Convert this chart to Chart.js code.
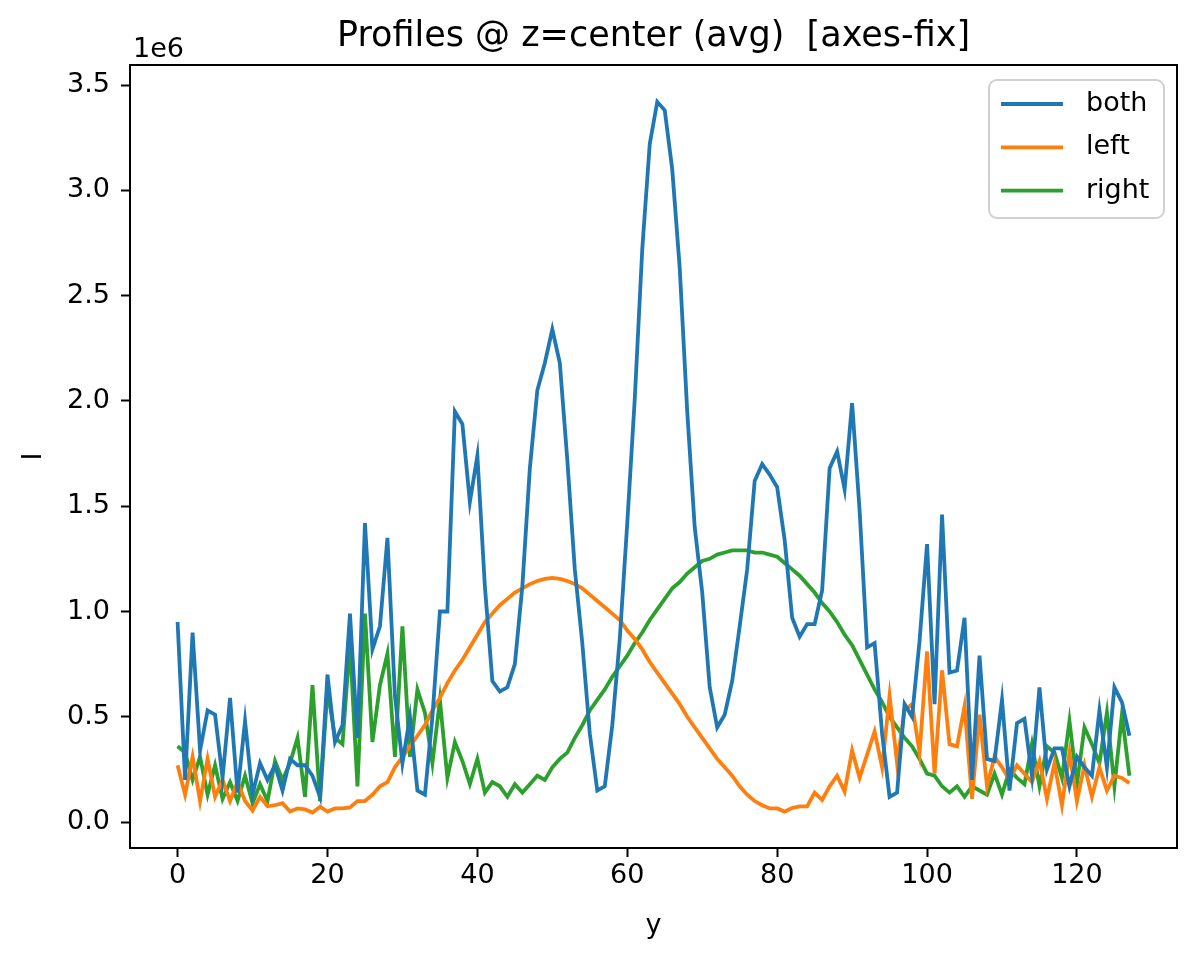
<!DOCTYPE html>
<html><head><meta charset="utf-8">
<script src="https://cdn.jsdelivr.net/npm/chart.js@4.4.1/dist/chart.umd.min.js"></script>
<style>html,body{margin:0;padding:0;background:#fff}canvas{display:block}</style>
</head><body>
<canvas id="c" width="1200" height="959"></canvas>
<script>
// y index (pixel row), 0..127
const yIndex = [0,1,2,3,4,5,6,7,8,9,10,11,12,13,14,15,16,17,18,19,20,21,22,23,24,25,26,27,28,29,30,31,32,33,34,35,36,37,38,39,40,41,42,43,44,45,46,47,48,49,50,51,52,53,54,55,56,57,58,59,60,61,62,63,64,65,66,67,68,69,70,71,72,73,74,75,76,77,78,79,80,81,82,83,84,85,86,87,88,89,90,91,92,93,94,95,96,97,98,99,100,101,102,103,104,105,106,107,108,109,110,111,112,113,114,115,116,117,118,119,120,121,122,123,124,125,126,127];

// Intensity values, in units of 1e6
const both = [0.95,0.20,0.90,0.34,0.53,0.51,0.21,0.59,0.14,0.48,0.13,0.28,0.20,0.27,0.15,0.30,0.27,0.27,0.22,0.12,
0.70,0.38,0.46,0.99,0.40,1.42,0.82,0.93,1.35,0.60,0.28,0.50,0.15,0.13,0.50,1.00,1.00,1.95,1.89,1.52,
1.74,1.12,0.67,0.62,0.64,0.75,1.12,1.68,2.05,2.18,2.34,2.18,1.72,1.20,0.85,0.42,0.15,0.17,0.46,0.87,
1.42,2.01,2.72,3.22,3.42,3.38,3.10,2.63,1.95,1.40,1.09,0.64,0.45,0.51,0.67,0.93,1.20,1.62,1.70,1.65,
1.59,1.34,0.97,0.88,0.94,0.94,1.10,1.68,1.76,1.58,1.99,1.48,0.83,0.85,0.42,0.12,0.14,0.56,0.50,0.86,
1.32,0.56,1.46,0.71,0.72,0.97,0.20,0.79,0.30,0.29,0.58,0.15,0.47,0.49,0.22,0.64,0.25,0.35,0.35,0.17,
0.31,0.26,0.22,0.53,0.26,0.64,0.57,0.41];

const left = [0.27,0.13,0.31,0.10,0.30,0.12,0.20,0.10,0.19,0.10,0.055,0.12,0.075,0.08,0.09,0.05,0.065,0.06,0.045,0.073,
0.05,0.065,0.065,0.07,0.10,0.10,0.13,0.17,0.19,0.26,0.31,0.36,0.41,0.46,0.53,0.59,0.66,0.72,0.77,0.83,
0.89,0.95,0.99,1.03,1.06,1.09,1.11,1.13,1.145,1.155,1.16,1.155,1.145,1.13,1.11,1.08,1.05,1.02,0.99,0.96,
0.91,0.87,0.82,0.76,0.71,0.66,0.61,0.56,0.50,0.45,0.40,0.35,0.30,0.26,0.22,0.17,0.13,0.10,0.08,0.065,
0.065,0.05,0.067,0.075,0.075,0.14,0.105,0.17,0.22,0.145,0.34,0.21,0.32,0.43,0.26,0.60,0.28,0.53,0.56,0.33,
0.81,0.23,0.72,0.37,0.36,0.55,0.11,0.51,0.17,0.31,0.26,0.20,0.27,0.23,0.19,0.29,0.11,0.28,0.08,0.33,
0.10,0.27,0.12,0.26,0.15,0.22,0.21,0.185];

const right = [0.36,0.33,0.20,0.31,0.13,0.27,0.11,0.19,0.10,0.22,0.09,0.18,0.10,0.29,0.20,0.28,0.40,0.12,0.65,0.10,
0.63,0.40,0.37,0.85,0.17,0.99,0.38,0.65,0.80,0.31,0.93,0.31,0.63,0.52,0.28,0.58,0.21,0.38,0.29,0.18,
0.30,0.14,0.19,0.17,0.12,0.18,0.14,0.18,0.22,0.20,0.26,0.30,0.33,0.40,0.46,0.53,0.58,0.63,0.69,0.74,
0.79,0.85,0.90,0.96,1.01,1.06,1.11,1.14,1.18,1.21,1.24,1.25,1.27,1.28,1.29,1.29,1.29,1.28,1.28,1.27,
1.26,1.23,1.20,1.17,1.13,1.09,1.04,1.00,0.95,0.89,0.84,0.77,0.70,0.63,0.57,0.50,0.45,0.40,0.36,0.30,
0.23,0.22,0.17,0.14,0.17,0.12,0.17,0.15,0.13,0.23,0.13,0.25,0.21,0.18,0.37,0.17,0.36,0.33,0.21,0.48,
0.18,0.45,0.37,0.28,0.52,0.17,0.51,0.22];

const seriesNames = ['both','left','right'];
const seriesColors = ['#1f77b4','#ff7f0e','#2ca02c'];
const xTicks = [0,20,40,60,80,100,120];
const yTicks = [0.0,0.5,1.0,1.5,2.0,2.5,3.0,3.5];
const xRange = [-6.35,133.35];
const yRange = [-0.123,3.595];

const FONT = '"DejaVu Sans", "Liberation Sans", sans-serif';
const seriesData = [both, left, right];

const framePlugin = {
  id: 'frameAndLegend',
  afterDatasetsDraw(chart) {
    const {ctx, chartArea: a} = chart;
    ctx.save();
    ctx.strokeStyle = '#000';
    ctx.lineWidth = 2;
    ctx.strokeRect(a.left, a.top, a.right - a.left, a.bottom - a.top);
    // offset text
    ctx.fillStyle = '#000';
    ctx.font = '27px ' + FONT;
    ctx.textAlign = 'left';
    ctx.textBaseline = 'alphabetic';
    ctx.fillText('1e6', a.left + 3, a.top - 8);
    // legend
    const x0 = a.right - 188, y0 = a.top + 15, w = 175, h = 138, r = 8;
    ctx.beginPath();
    ctx.moveTo(x0 + r, y0);
    ctx.arcTo(x0 + w, y0, x0 + w, y0 + h, r);
    ctx.arcTo(x0 + w, y0 + h, x0, y0 + h, r);
    ctx.arcTo(x0, y0 + h, x0, y0, r);
    ctx.arcTo(x0, y0, x0 + w, y0, r);
    ctx.closePath();
    ctx.fillStyle = 'rgba(255,255,255,0.8)';
    ctx.fill();
    ctx.strokeStyle = '#d0d0d0';
    ctx.lineWidth = 2;
    ctx.stroke();
    chart.data.datasets.forEach((ds, i) => {
      const yy = y0 + 24 + i * 43.3;
      ctx.beginPath();
      ctx.moveTo(x0 + 12, yy);
      ctx.lineTo(x0 + 74, yy);
      ctx.strokeStyle = ds.borderColor;
      ctx.lineWidth = 3.8;
      ctx.stroke();
      ctx.fillStyle = '#000';
      ctx.textBaseline = 'middle';
      ctx.fillText(ds.label, x0 + 97, yy);
    });
    ctx.restore();
  }
};

new Chart(document.getElementById('c'), {
  type: 'line',
  data: {
    datasets: seriesData.map((arr, k) => ({
      label: seriesNames[k],
      data: arr.map((v, i) => ({x: yIndex[i], y: v})),
      borderColor: seriesColors[k],
      backgroundColor: seriesColors[k],
      borderWidth: 3.8,
      pointRadius: 0,
      tension: 0,
      fill: false
    }))
  },
  options: {
    responsive: false,
    animation: false,
    devicePixelRatio: 1,
    layout: {padding: {left: 0, right: 23, top: 0, bottom: 0}},
    plugins: {
      legend: {display: false},
      tooltip: {enabled: false},
      title: {
        display: true,
        fullSize: false,
        text: 'Profiles @ z=center (avg)  [axes-fix]',
        color: '#000',
        font: {family: FONT, size: 35, weight: 'normal'},
        padding: {top: 16, bottom: 7}
      }
    },
    scales: {
      x: {
        type: 'linear',
        min: xRange[0], max: xRange[1],
        afterBuildTicks: s => { s.ticks = xTicks.map(v => ({value: v})); },
        afterFit: s => { s.height = 111; },
        ticks: {color: '#000', font: {family: FONT, size: 27}, padding: 3, maxRotation: 0,
                callback: v => String(v)},
        grid: {drawOnChartArea: false, drawTicks: true, tickLength: 9, tickWidth: 2, tickColor: '#000'},
        border: {display: false},
        title: {display: true, text: 'y', color: '#000', font: {family: FONT, size: 27}, padding: {top: 0, bottom: 17}}
      },
      y: {
        type: 'linear',
        min: yRange[0], max: yRange[1],
        afterBuildTicks: s => { s.ticks = yTicks.map(v => ({value: v})); },
        afterFit: s => { s.width = 130; },
        ticks: {color: '#000', font: {family: FONT, size: 27}, padding: 11,
                callback: v => Number(v).toFixed(1)},
        grid: {drawOnChartArea: false, drawTicks: true, tickLength: 9, tickWidth: 2, tickColor: '#000'},
        border: {display: false},
        title: {display: true, text: 'I', color: '#000', font: {family: FONT, size: 27}, padding: {top: 18, bottom: 0}}
      }
    }
  },
  plugins: [framePlugin]
});
</script>
</body></html>
